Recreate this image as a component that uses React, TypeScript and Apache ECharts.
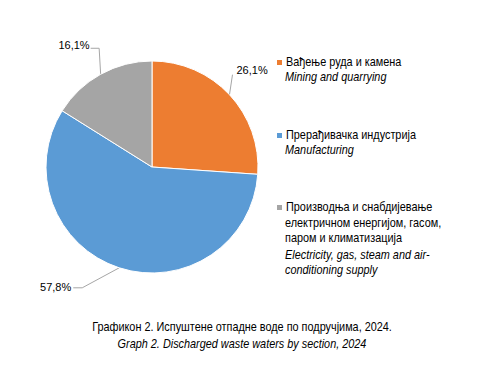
import React, { useEffect, useRef } from "react";
import * as echarts from "echarts";

const categories = ["Вађење руда и камена", "Прерађивачка индустрија", "Производња и снабдијевање"];
const values = [26.1, 57.8, 16.1];
const colors = ["#ED7D31", "#5B9BD5", "#A5A5A5"];
const legendLines: { text: string; italic: boolean }[][] = [
  [
    { text: "Вађење руда и камена", italic: false },
    { text: "Mining and quarrying", italic: true },
  ],
  [
    { text: "Прерађивачка индустрија", italic: false },
    { text: "Manufacturing", italic: true },
  ],
  [
    { text: "Производња и снабдијевање", italic: false },
    { text: "електричном енергијом, гасом,", italic: false },
    { text: "паром и климатизација", italic: false },
    { text: "Electricity, gas, steam and air-", italic: true },
    { text: "conditioning supply", italic: true },
  ],
];
const titleMain = "Графикон 2. Испуштене отпадне воде по подручјима, 2024.";
const titleSub = "Graph 2. Discharged waste waters by section, 2024";

const FONT = "'Liberation Sans', Arial, sans-serif";
const NARROW = 0.87;

export default function App() {
  const ref = useRef<HTMLDivElement>(null);
  useEffect(() => {
    if (!ref.current) return;
    const chart = echarts.init(ref.current, null, { renderer: "svg" });
    const lineY = [[61.5, 76], [134.5, 149], [206.5, 222, 237, 254.5, 269]];
    const graphic: any[] = [];
    legendLines.forEach((lines, i) => {
      lines.forEach((ln, j) => {
        graphic.push({
          type: "text",
          x: j === 0 ? 286 : 285,
          y: lineY[i][j],
          scaleX: NARROW,
          style: {
            text: ln.text,
            fontFamily: FONT,
            fontSize: 12.5,
            fontStyle: ln.italic ? "italic" : "normal",
            fill: "#000",
            verticalAlign: "middle",
            align: "left",
          },
        });
      });
    });
    [titleMain, titleSub].forEach((t, i) => {
      graphic.push({
        type: "text",
        x: 242,
        y: i === 0 ? 326 : 342.7,
        scaleX: NARROW,
        style: {
          text: t,
          fontFamily: FONT,
          fontSize: 12.5,
          fontStyle: i === 1 ? "italic" : "normal",
          fill: "#000",
          align: "center",
          verticalAlign: "middle",
        },
      });
    });
    const legends = categories.map((c, i) => ({
      orient: "vertical",
      left: 275,
      top: lineY[i][0] - 3.5,
      padding: 0,
      itemWidth: 7,
      itemHeight: 7,
      icon: "rect",
      data: [c],
      formatter: () => "",
      selectedMode: false,
      textStyle: { fontSize: 7 },
    }));
    chart.setOption({
      animation: false,
      color: colors,
      legend: legends,
      graphic,
      series: [
        {
          type: "pie",
          center: [152, 167],
          radius: 106,
          startAngle: 90,
          clockwise: true,
          data: categories.map((c, i) => ({ name: c, value: values[i] })),
          itemStyle: { borderColor: "#fff", borderWidth: 1 },
          label: {
            show: true,
            position: "outside",
            fontFamily: FONT,
            fontSize: 11,
            color: "#000",
            formatter: (p: any) => p.value.toFixed(1).replace(".", ",") + "%",
          },
          labelLine: { show: true, lineStyle: { color: "#a6a6a6", width: 1 }, length: 15, length2: 10 },
          labelLayout: (params: any) => {
            const pts = params.labelLinePoints;
            if (!pts) return {};
            const a = pts[0];
            const ax = a[0];
            const ay = a[1];
            if (params.dataIndex === 0) {
              return {
                x: ax + 7,
                y: ay - 25,
                align: "left",
                verticalAlign: "middle",
                labelLinePoints: [[ax, ay], [ax + 3, ay - 20], [ax + 3, ay - 20]],
              };
            } else if (params.dataIndex === 1) {
              return {
                x: ax - 48,
                y: ay + 19,
                align: "right",
                verticalAlign: "middle",
                labelLinePoints: [[ax, ay], [ax - 37, ay + 20], [ax - 46, ay + 20]],
              };
            }
            return {
              x: ax - 11,
              y: ay - 29,
              align: "right",
              verticalAlign: "middle",
              labelLinePoints: [[ax, ay], [ax - 1.5, ay - 26], [ax - 10, ay - 26]],
            };
          },
        },
      ],
    });
    return () => chart.dispose();
  }, []);
  return <div ref={ref} style={{ position: "fixed", left: 0, top: 0, width: 489, height: 374, background: "#fff" }} />;
}
